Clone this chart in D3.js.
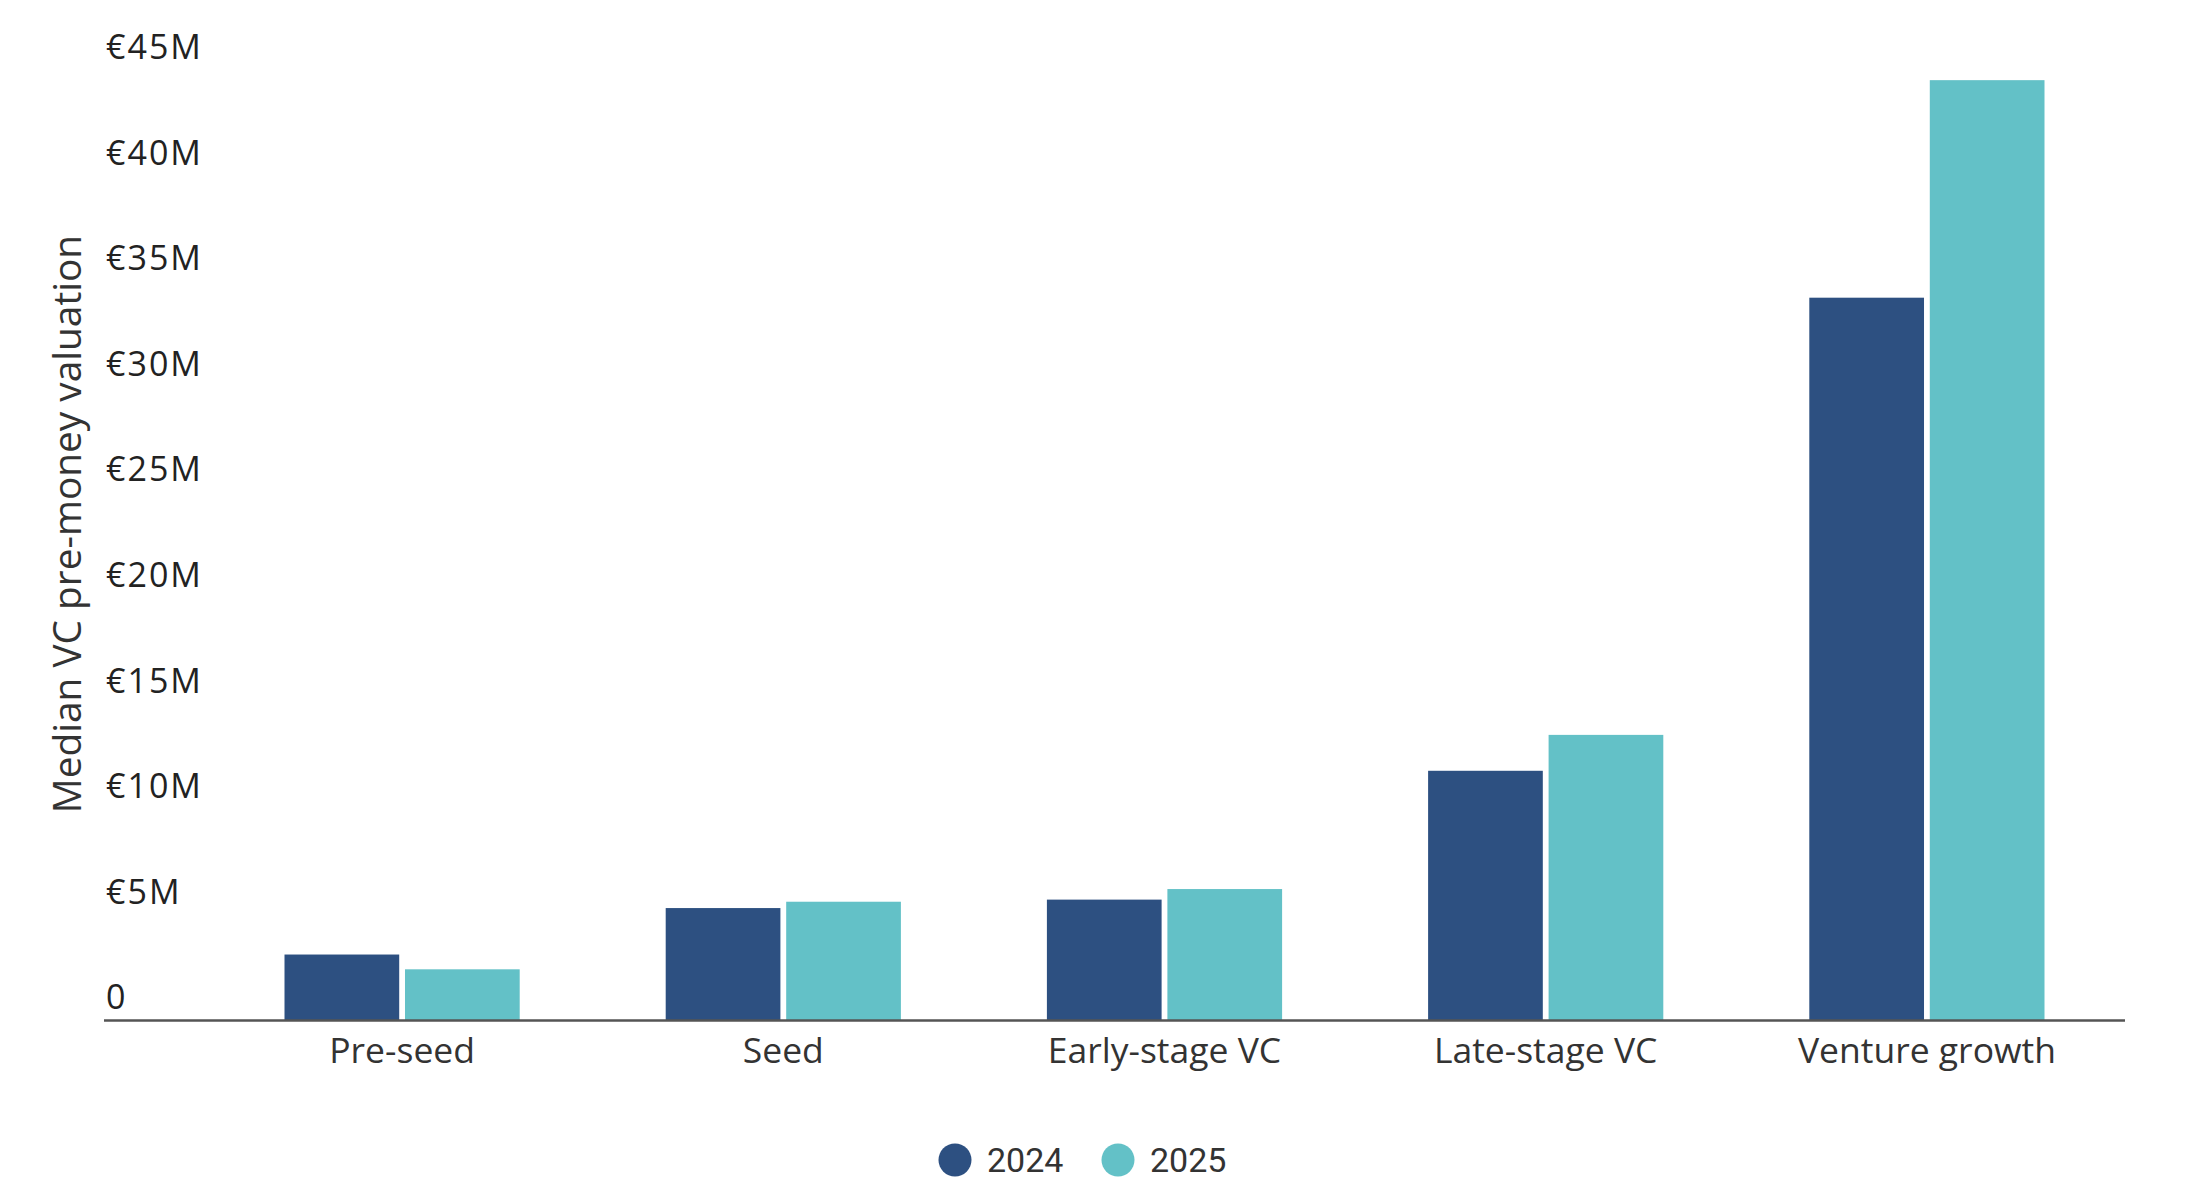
<!DOCTYPE html>
<html>
<head>
<meta charset="utf-8">
<script src="https://cdn.jsdelivr.net/npm/d3@7"></script>
<style>
  body { margin: 0; background: #fff; }
  svg { display: block; }
</style>
</head>
<body>
<div id="chart"></div>
<script>
// values in € millions
const stages = ["Pre-seed", "Seed", "Early-stage VC", "Late-stage VC", "Venture growth"];
const years = ["2024", "2025"];
const values2024 = [3.1, 5.3, 5.7, 11.8, 34.2];
const values2025 = [2.4, 5.6, 6.2, 13.5, 44.5];
const yTicks = [0, 5, 10, 15, 20, 25, 30, 35, 40, 45];
const yTickLabels = ["0", "€5M", "€10M", "€15M", "€20M", "€25M", "€30M", "€35M", "€40M", "€45M"];
const yTitle = "Median VC pre-money valuation";

const width = 2196;
const height = 1198;
const baseY = 1020;
const axisLeftX = 104;
const axisRightX = 2125;

const color = d3.scaleOrdinal()
    .domain(years)
    .range(["#2d5081", "#63c1c7"]);

const svg = d3.select("#chart").append("svg")
    .attr("width", width)
    .attr("height", height)
    .style("background", "#fff");

const x0 = d3.scaleBand()
    .domain(stages)
    .range([211.5, 2117.5])
    .paddingInner(0.383)
    .paddingOuter(0.1915);

const x1 = d3.scaleBand()
    .domain(years)
    .range([0, x0.bandwidth()])
    .paddingInner(0.048);

const y = d3.scaleLinear()
    .domain([0, 45])
    .range([baseY, baseY - 45 * 21.12]);

// bars
const rows = stages.map((s, i) => ({ stage: s, vals: [
    { year: "2024", v: values2024[i] },
    { year: "2025", v: values2025[i] }
]}));

const groups = svg.selectAll("g.grp")
    .data(rows)
    .enter().append("g")
    .attr("class", "grp")
    .attr("transform", d => "translate(" + x0(d.stage) + ",0)");

groups.selectAll("rect")
    .data(d => d.vals)
    .enter().append("rect")
    .attr("x", d => x1(d.year))
    .attr("y", d => y(d.v))
    .attr("width", x1.bandwidth())
    .attr("height", d => y(0) - y(d.v))
    .attr("fill", d => color(d.year));

// y axis labels (no ticks, labels sit above their value)
const yAxis = svg.append("g")
    .attr("transform", "translate(" + (axisLeftX + 2) + ",0)")
    .call(d3.axisLeft(y).tickValues(yTicks).tickSize(0)
        .tickFormat((d, i) => yTickLabels[i]));
yAxis.select(".domain").remove();
yAxis.selectAll("text")
    .attr("x", 0)
    .attr("y", -23)
    .attr("dy", "0.35em")
    .style("text-anchor", "start")
    .style("font-family", "'Open Sans', sans-serif")
    .style("font-size", "34px")
    .style("letter-spacing", "2px")
    .style("fill", "#222");

// x axis labels
const xAxis = svg.append("g")
    .attr("transform", "translate(0," + baseY + ")")
    .call(d3.axisBottom(x0).tickSize(0).tickPadding(18));
xAxis.select(".domain").remove();
xAxis.selectAll("text")
    .style("font-family", "'Open Sans', sans-serif")
    .style("font-size", "35.5px")
    .style("fill", "#333");

// baseline
svg.append("line")
    .attr("x1", axisLeftX)
    .attr("x2", axisRightX)
    .attr("y1", y(0) + 0.5)
    .attr("y2", y(0) + 0.5)
    .attr("stroke", "#555")
    .attr("stroke-width", 2.5);

// y axis title
svg.append("text")
    .attr("transform", "translate(67,524) rotate(-90)")
    .attr("dy", "0.35em")
    .style("text-anchor", "middle")
    .style("font-family", "'Open Sans', sans-serif")
    .style("font-size", "38.8px")
    .style("fill", "#333")
    .text(yTitle);

// legend
const legendX = [955, 1118];
const legend = svg.selectAll(".legend")
    .data(years)
    .enter().append("g")
    .attr("class", "legend")
    .attr("transform", (d, i) => "translate(" + legendX[i] + ",1160)");

legend.append("circle")
    .attr("r", 16.5)
    .attr("fill", d => color(d));

legend.append("text")
    .attr("x", 32)
    .attr("dy", "0.35em")
    .style("font-family", "Roboto, sans-serif")
    .style("font-size", "34px")
    .style("fill", "#333")
    .text(d => d);
</script>
</body>
</html>
